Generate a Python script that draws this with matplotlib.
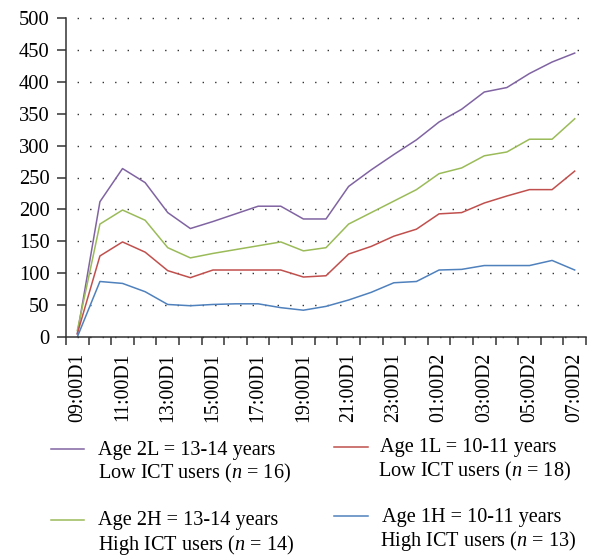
import numpy as np
import matplotlib
matplotlib.use('Agg')
import matplotlib.pyplot as plt
from matplotlib.lines import Line2D

# hourly categories on the x axis
hours = ['09:00D1', '10:00D1', '11:00D1', '12:00D1', '13:00D1', '14:00D1',
         '15:00D1', '16:00D1', '17:00D1', '18:00D1', '19:00D1', '20:00D1',
         '21:00D1', '22:00D1', '23:00D1', '00:00D2', '01:00D2', '02:00D2',
         '03:00D2', '04:00D2', '05:00D2', '06:00D2', '07:00D2']

# values
age2L = [5, 212, 264, 242, 195, 170, 181, 193, 205, 205, 185, 185,
         236, 262, 286, 309, 337, 357, 384, 391, 413, 431, 445]
age2H = [10, 177, 199, 183, 140, 124, 131, 137, 143, 149, 135, 140,
         177, 195, 213, 231, 256, 265, 284, 290, 310, 310, 342]
age1L = [5, 127, 149, 133, 104, 93, 105, 105, 105, 105, 94, 96,
         130, 142, 158, 169, 193, 195, 210, 221, 231, 231, 260]
age1H = [0, 87, 84, 71, 51, 49, 51, 52, 52, 46, 42, 48,
         58, 70, 85, 87, 105, 106, 112, 112, 112, 120, 105]

series_labels = [
    ('Age 2L = 13-14 years', 'Low ICT users ($n$ = 16)'),
    ('Age 2H = 13-14 years', 'High ICT users ($n$ = 14)'),
    ('Age 1L = 10-11 years', 'Low ICT users ($n$ = 18)'),
    ('Age 1H = 10-11 years', 'High ICT users ($n$ = 13)'),
]
colors = ['#8064A2', '#9BBB59', '#C0504D', '#4F81BD']

plt.rcParams['font.family'] = 'Liberation Serif'
plt.rcParams['mathtext.fontset'] = 'custom'
plt.rcParams['mathtext.rm'] = 'Liberation Serif'
plt.rcParams['mathtext.it'] = 'Liberation Serif:italic'

W, H = 592, 558
fig = plt.figure(figsize=(W / 100, H / 100), dpi=100)
ax = fig.add_axes([66 / W, 1 - 337 / H, 520 / W, 319 / H])

x = np.arange(len(hours))
for vals, c in zip([age2L, age2H, age1L, age1H], colors):
    ax.plot(x, vals, color=c, lw=1.1, solid_joinstyle='round')

ax.set_xlim(-0.5, len(hours) - 0.5)
ax.set_ylim(0, 500)
ax.set_yticks(np.arange(0, 501, 50))
ax.set_xticks(x[::2])
ax.set_xticklabels(hours[::2], rotation=90, fontsize=14.3)
ax.set_xticks(np.arange(-0.5, len(hours), 1), minor=True)
ax.tick_params(axis='x', which='major', length=0, pad=11.5)
ax.tick_params(axis='x', which='minor', length=6, width=1.1, color='#333333')
ax.tick_params(axis='y', length=6.3, width=1.1, color='#333333', pad=5.5, labelsize=14.8)

for s in ['top', 'right']:
    ax.spines[s].set_visible(False)
for s in ['left', 'bottom']:
    ax.spines[s].set_color('#333333')
    ax.spines[s].set_linewidth(1.1)

ax.yaxis.grid(True, color='#333333', lw=1.0, linestyle=(1, (1, 8)))
for gl in ax.get_ygridlines():
    gl.set_clip_on(False)
ax.set_axisbelow(True)

# legend, drawn by hand to follow the two-line layout
def px(xp, yp):
    return xp / W, 1 - yp / H

legend_pos = [
    # handle x0, x1, y, text x line1, baseline1, text x line2, baseline2
    (51, 84, 449, 98, 455, 98, 478),
    (51, 84, 520, 98, 525, 98, 550),
    (334, 368, 447, 380, 452, 378, 476),
    (334, 368, 516, 382, 522, 380, 546),
]
for (l1, l2), c, p in zip(series_labels, colors, legend_pos):
    hx0, hx1, hy, tx1, ty1, tx2, ty2 = p
    fig.add_artist(Line2D([hx0 / W, hx1 / W], [1 - hy / H, 1 - hy / H],
                          color=c, lw=1.1, transform=fig.transFigure))
    fig.text(*px(tx1, ty1), l1, fontsize=14.6, va='baseline', ha='left')
    fig.text(*px(tx2, ty2), l2, fontsize=14.6, va='baseline', ha='left')

fig.savefig('out.png', dpi=100)
